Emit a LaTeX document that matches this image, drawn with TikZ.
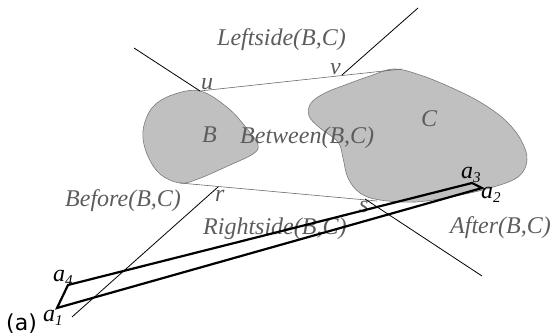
\documentclass[tikz,border=0pt]{standalone}
\usepackage{fontspec}
\setmainfont{Liberation Serif}
\newfontfamily\labsans{DejaVu Sans}
\definecolor{blobfill}{HTML}{C0C0C0}
\definecolor{blobedge}{HTML}{7A7A7A}
\definecolor{labgray}{HTML}{5C5C5C}
\definecolor{tangray}{HTML}{6A6A6A}
\tikzset{
  lab/.style={inner sep=0pt, anchor=base west, text=labgray, font=\fontsize{24}{26}\selectfont\itshape},
  alab/.style={inner sep=0pt, anchor=base west, text=black, font=\fontsize{24}{26}\selectfont\itshape},
  blob/.style={fill=blobfill, draw=blobedge, line width=0.6pt},
  tang/.style={draw=tangray, line width=0.6pt},
  cut/.style={draw=black, line width=0.8pt},
  rect/.style={draw=black, line width=2.2pt, line join=miter}
}
\newcommand{\sub}[1]{\raisebox{-4pt}{\fontsize{15}{15}\selectfont #1}}
\begin{document}
\begin{tikzpicture}[x=1pt,y=-1pt]
\useasboundingbox (0,0) rectangle (555,336);
% blobs
\path[blob] plot[smooth cycle, tension=0.6] coordinates {
 (200,91) (228,108) (248,130) (258,145) (253,154) (230,165) (198,179) (180,183)
 (160,174) (147,154) (143,131) (152,108) (172,95)};
\path[blob] plot[smooth cycle, tension=0.6] coordinates {
 (394,69) (420,75) (450,87) (480,102) (505,120) (521,140) (527,160) (518,177)
 (490,188) (450,197) (415,202) (380,200) (360,193) (348,178) (343,158) (338,142)
 (320,128) (309,116) (311,103) (325,93) (345,85) (370,76)};
% key points
\coordinate (u) at (200,91);
\coordinate (v) at (342,75);
\coordinate (cT) at (402,69);
\coordinate (bB) at (180,183);
\coordinate (r) at (218,187);
\coordinate (s) at (365,199);
\coordinate (cB) at (377,201);
\coordinate (uEnd) at (134,48);
\coordinate (vEnd) at (418,8);
\coordinate (rEnd) at (72,317);
\coordinate (sEnd) at (482,276);
\coordinate (a1) at (57,308);
\coordinate (a2) at (482,188);
\coordinate (a3) at (472,183);
\coordinate (a4) at (68,285);
% tangent lines
\draw[tang] (u) -- (cT);
\draw[tang] (bB) -- (cB);
% cutting lines
\draw[cut] (uEnd) -- (u);
\draw[cut] (v) -- (vEnd);
\draw[cut] (r) -- (rEnd);
\draw[cut] (s) -- (sEnd);
% labels
\node[lab] (lLeft) at (217,46) {Leftside(B,C)};
\node[lab] (lB) at (202,143) {B};
\node[lab] (lBetween) at (240,144) {Between(B,C)};
\node[lab] (lC) at (421,127) {C};
\node[lab] (lu) at (201,90) {u};
\node[lab] (lv) at (330,75) {v};
\node[lab] (lr) at (215,202) {r};
\node[lab] (ls) at (359,213) {s};
\node[lab] (lBefore) at (65,207) {Before(B,C)};
\node[lab] (lRight) at (203,235) {Rightside(B,C)};
\node[lab] (lAfter) at (450,234) {After(B,C)};
% parallelogram
\draw[rect] (a1) -- (a2) -- (a3) -- (a4) -- cycle;
\node[alab] (la4) at (53,282) {a\sub{4}};
\node[alab] (la1) at (43,322) {a\sub{1}};
\node[alab] (la3) at (461,179) {a\sub{3}};
\node[alab] (la2) at (481,199) {a\sub{2}};
\node[inner sep=0pt, anchor=base west, font=\labsans\fontsize{22}{24}\selectfont] (cap) at (6,331) {(a)};
\end{tikzpicture}
\end{document}
